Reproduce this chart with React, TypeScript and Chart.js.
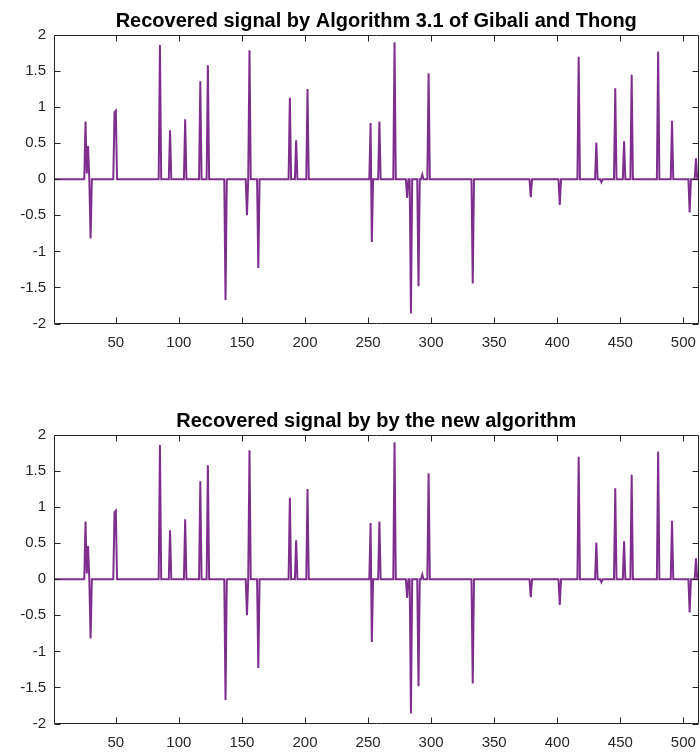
import React, { useEffect, useRef } from "react";
import { Chart, registerables } from "chart.js";

Chart.register(...registerables);

// ---- data ----
const signalLength = 512;
const spikeIndex = [
  26, 27, 28, 30, 49, 50, 85, 93, 105, 117, 123, 137, 154, 156, 163, 188, 193, 202,
  252, 253, 259, 271, 281, 284, 290, 293, 298, 333, 379, 402, 417, 431, 435, 446,
  453, 459, 480, 491, 505, 510,
];
const spikeValue = [
  0.8, 0.08, 0.46, -0.82, 0.93, 0.95, 1.86, 0.68, 0.83, 1.36, 1.58, -1.675, -0.5, 1.79, -1.23, 1.13, 0.54, 1.25,
  0.78, -0.87, 0.8, 1.9, -0.26, -1.86, -1.485, 0.065, 1.47, -1.445, -0.25, -0.355, 1.7, 0.51, -0.04, 1.26,
  0.526, 1.45, 1.77, 0.81, -0.46, 0.29,
];
const xTickValues = [50, 100, 150, 200, 250, 300, 350, 400, 450, 500];
const yTickValues = [-2, -1.5, -1, -0.5, 0, 0.5, 1, 1.5, 2];
const plotTitles = [
  "Recovered signal by Algorithm 3.1 of Gibali and Thong",
  "Recovered signal by by the new algorithm",
];

const FONT = "'Liberation Sans', Arial, Helvetica, sans-serif";
const AXIS_COLOR = "#262626";
const LINE_COLOR = "#7E2F8E";

function buildSeries() {
  const ys: number[] = new Array(signalLength).fill(0);
  spikeIndex.forEach((idx, k) => {
    ys[idx - 1] = spikeValue[k];
  });
  return ys.map((y, i) => ({ x: i + 1, y }));
}

const boxPlugin = {
  id: "matlabBox",
  afterDatasetsDraw(chart: any) {
    const { ctx, chartArea: a, scales } = chart;
    const xs = scales.x;
    const ys = scales.y;
    const L = Math.round(a.left) + 0.5;
    const R = Math.round(a.right) - 0.5;
    const T = Math.round(a.top) + 0.5;
    const B = Math.round(a.bottom) - 0.5;
    const tl = 6;
    ctx.save();
    ctx.strokeStyle = AXIS_COLOR;
    ctx.lineWidth = 1;
    ctx.beginPath();
    ctx.rect(L, T, R - L, B - T);
    for (const v of xTickValues) {
      const px = Math.round(xs.getPixelForValue(v)) + 0.5;
      ctx.moveTo(px, B);
      ctx.lineTo(px, B - tl);
      ctx.moveTo(px, T);
      ctx.lineTo(px, T + tl);
    }
    for (const v of yTickValues) {
      const py = Math.round(ys.getPixelForValue(v)) + 0.5;
      ctx.moveTo(L, py);
      ctx.lineTo(L + tl, py);
      ctx.moveTo(R, py);
      ctx.lineTo(R - tl, py);
    }
    ctx.stroke();
    ctx.restore();
  },
};

function SignalPlot({ title, height }: { title: string; height: number }) {
  const ref = useRef<HTMLCanvasElement | null>(null);
  useEffect(() => {
    if (!ref.current) return;
    const chart = new Chart(ref.current, {
      type: "line",
      data: {
        datasets: [
          {
            data: buildSeries(),
            borderColor: LINE_COLOR,
            backgroundColor: LINE_COLOR,
            borderWidth: 2,
            pointRadius: 0,
            tension: 0,
            fill: false,
          },
        ],
      },
      plugins: [boxPlugin],
      options: {
        animation: false,
        responsive: false,
        maintainAspectRatio: false,
        layout: { padding: { left: 0, right: 1.5, top: 0, bottom: 0 } },
        plugins: {
          legend: { display: false },
          tooltip: { enabled: false },
          title: {
            display: true,
            text: title,
            fullSize: false,
            color: "#000000",
            font: { family: FONT, size: 20, weight: "bold", lineHeight: 1.2 },
            padding: { top: 9, bottom: 2 },
          },
        },
        scales: {
          x: {
            type: "linear",
            min: 1,
            max: signalLength,
            grid: { display: false, drawTicks: false },
            border: { display: false },
            afterBuildTicks: (scale: any) => {
              scale.ticks = xTickValues.map((v) => ({ value: v }));
            },
            afterFit: (scale: any) => {
              scale.height = height - 323.5;
              scale.paddingLeft = 0;
              scale.paddingRight = 0;
            },
            ticks: {
              color: AXIS_COLOR,
              font: { family: FONT, size: 15 },
              padding: 10,
              maxRotation: 0,
              autoSkip: false,
              callback: (v: any) => String(v),
            },
          },
          y: {
            type: "linear",
            min: -2,
            max: 2,
            grid: { display: false, drawTicks: false },
            border: { display: false },
            afterBuildTicks: (scale: any) => {
              scale.ticks = yTickValues.map((v) => ({ value: v }));
            },
            afterFit: (scale: any) => {
              scale.width = 54;
              scale.paddingTop = 0;
              scale.paddingBottom = 0;
            },
            ticks: {
              color: AXIS_COLOR,
              font: { family: FONT, size: 15 },
              padding: 8,
              autoSkip: false,
              callback: (v: any) => String(v),
            },
          },
        },
      },
    } as any);
    return () => chart.destroy();
  }, [title, height]);
  return <canvas ref={ref} width={700} height={height} style={{ display: "block", width: 700, height }} />;
}

export default function App() {
  return (
    <div style={{ position: "absolute", left: 0, top: 0, width: 700, height: 753, background: "#ffffff" }}>
      <div style={{ position: "absolute", left: 0, top: 0 }}>
        <SignalPlot title={plotTitles[0]} height={400} />
      </div>
      <div style={{ position: "absolute", left: 0, top: 400 }}>
        <SignalPlot title={plotTitles[1]} height={353} />
      </div>
    </div>
  );
}
